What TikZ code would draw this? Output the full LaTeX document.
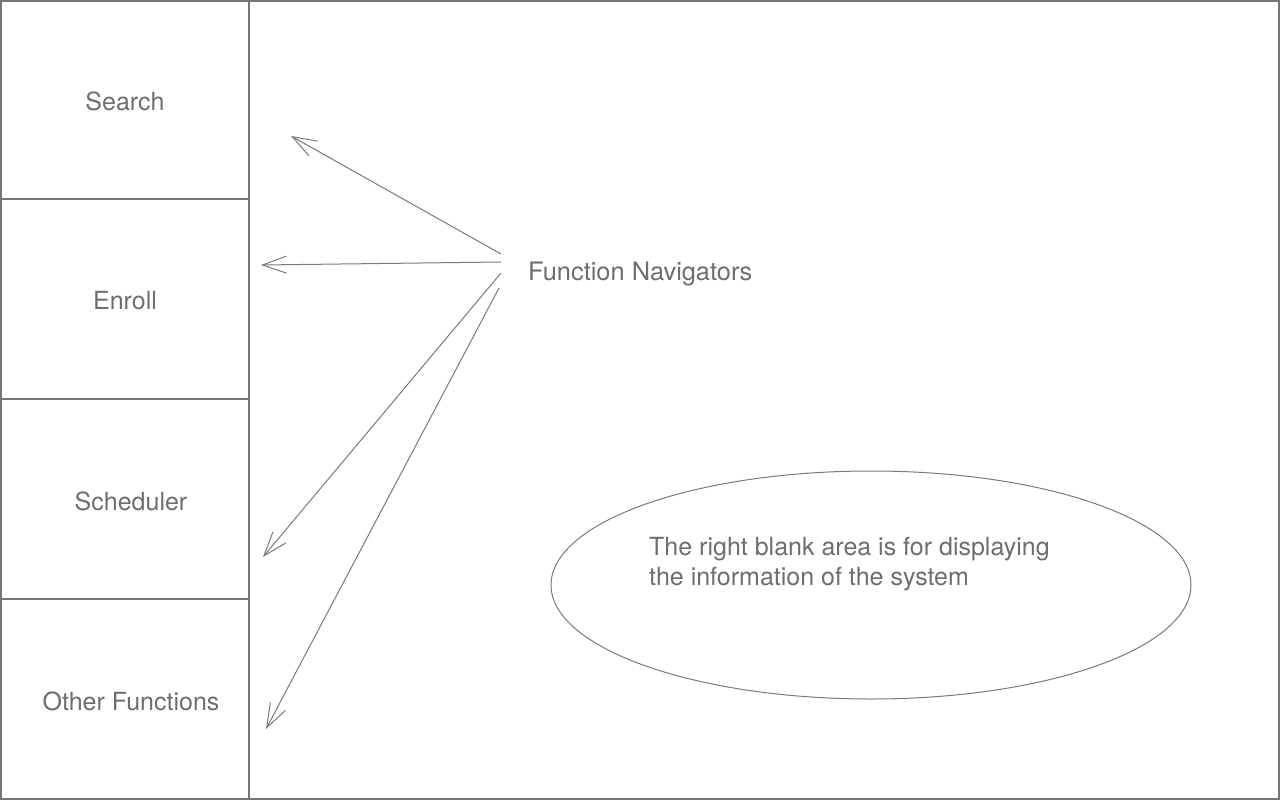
\documentclass[tikz,border=0pt]{standalone}
\usepackage{fontspec}
\setmainfont{TeX Gyre Heros}
\usetikzlibrary{arrows.meta,shapes.geometric}
\definecolor{frame}{HTML}{777777}
\definecolor{txt}{HTML}{6E6E6E}
\definecolor{arr}{HTML}{7A7A7A}
\begin{document}
\begin{tikzpicture}[x=1pt,y=-1pt,
  lbl/.style={text=txt,font=\fontsize{25}{30}\selectfont,inner sep=0pt,anchor=center},
  navarrow/.style={draw=arr,line width=1pt,-{Straight Barb[length=24pt,width=17pt,line width=1pt]}},
  panel/.style={draw=frame,line width=2pt}]
\useasboundingbox (0,0) rectangle (1280,800);
\fill[white] (0,0) rectangle (1280,800);
% outer frame
\draw[panel] (1,1) rectangle (1279,799);
% left column
\draw[panel] (249,0) -- (249,800);
\draw[panel] (0,199) -- (249,199);
\draw[panel] (0,399) -- (249,399);
\draw[panel] (0,599) -- (249,599);
\node[lbl] (search) at (125,101) {Search};
\node[lbl] (enroll) at (125,301) {Enroll};
\node[lbl] (sched) at (131,501) {Scheduler};
\node[lbl] (other) at (131,701) {Other Functions};
% navigators
\node[lbl,anchor=west,font=\fontsize{25.4}{30}\selectfont] (fn) at (528,274) {Function Navigators};
\coordinate (t1) at (501,254);
\coordinate (t2) at (501,262);
\coordinate (t3) at (501,273);
\coordinate (t4) at (499,288);
\coordinate (h1) at (291,136);
\coordinate (h2) at (261,265);
\coordinate (h3) at (263,557);
\coordinate (h4) at (266,729);
\draw[navarrow] (t1) -- (h1);
\draw[navarrow] (t2) -- (h2);
\draw[navarrow] (t3) -- (h3);
\draw[navarrow] (t4) -- (h4);
% ellipse
\node[draw=arr,line width=1pt,ellipse,minimum width=640pt,minimum height=228pt,inner sep=0pt] (ell) at (871,585) {};
\node[lbl,anchor=north west,align=left] (info) at (649,537) {The right blank area is for displaying\\the information of the system};
\end{tikzpicture}
\end{document}
